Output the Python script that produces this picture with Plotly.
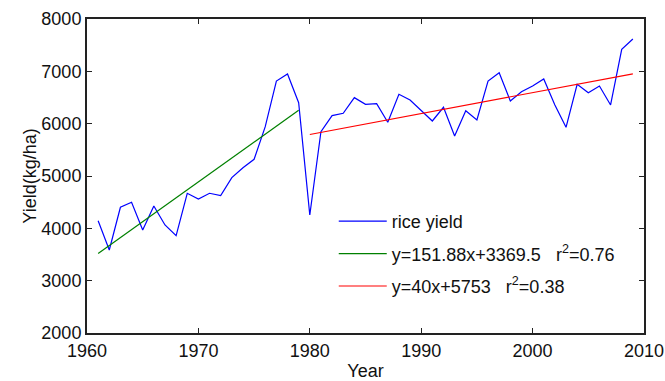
import plotly.graph_objects as go

years = list(range(1961, 2010))
rice_yield = [4146, 3586, 4402, 4497, 3968, 4427, 4064, 3860, 4670, 4561,
              4670, 4624, 4968, 5159, 5319, 5943, 6815, 6949, 6401, 4255,
              5847, 6153, 6198, 6497, 6370, 6382, 6026, 6561, 6453, 6242,
              6051, 6313, 5765, 6248, 6070, 6815, 6974, 6433, 6611, 6720,
              6854, 6357, 5931, 6752, 6592, 6720, 6357, 7421, 7618]

trend1_years = list(range(1961, 1980))
trend1_vals = [3521, 3673, 3825, 3977, 4129, 4281, 4433, 4585, 4736, 4888,
               5040, 5192, 5344, 5496, 5648, 5800, 5951, 6103, 6255]

trend2_years = list(range(1980, 2010))
trend2_vals = [5793, 5833, 5873, 5913, 5953, 5993, 6033, 6073, 6113, 6153,
               6193, 6233, 6273, 6313, 6353, 6393, 6433, 6473, 6513, 6553,
               6593, 6633, 6673, 6713, 6753, 6793, 6833, 6873, 6913, 6953]

names = ["rice yield",
         "y=151.88x+3369.5\u00a0\u00a0\u00a0r<sup>2</sup>=0.76",
         "y=40x+5753\u00a0\u00a0\u00a0r<sup>2</sup>=0.38"]

x_ticks = [1960, 1970, 1980, 1990, 2000, 2010]
y_ticks = [2000, 3000, 4000, 5000, 6000, 7000, 8000]

fig = go.Figure()
fig.add_trace(go.Scatter(x=years, y=rice_yield, mode="lines", name=names[0],
                         line=dict(color="#0000ff", width=1.2), legendgroup="a"))
fig.add_trace(go.Scatter(x=trend1_years, y=trend1_vals, mode="lines", name=names[1],
                         line=dict(color="#008000", width=1.2), legendgroup="b"))
fig.add_trace(go.Scatter(x=trend2_years, y=trend2_vals, mode="lines", name=names[2],
                         line=dict(color="#ff0000", width=1.2), legendgroup="c"))

axis_common = dict(showline=True, linecolor="#222222", linewidth=2, mirror="ticks",
                   ticks="inside", ticklen=5, tickwidth=1, tickcolor="#222222",
                   showgrid=False, zeroline=False, automargin=False,
                   tickfont=dict(family="Liberation Sans, Arial", size=18, color="#111111"))

fig.update_layout(
    width=665, height=381,
    margin=dict(l=87, r=21, t=19, b=48, autoexpand=False),
    paper_bgcolor="white", plot_bgcolor="white",
    font=dict(family="Liberation Sans, Arial", size=18, color="#111111"),
    xaxis=dict(range=[1960, 2010], tickvals=x_ticks, ticklabelstandoff=0,
               title=dict(text="Year", standoff=5,
                          font=dict(family="Liberation Sans, Arial", size=18)),
               **axis_common),
    yaxis=dict(range=[2000, 8000], tickvals=y_ticks,
               title=dict(text="Yield(kg/ha)", standoff=0,
                          font=dict(family="Liberation Sans, Arial", size=18)),
               **axis_common),
    legend=dict(x=0.443, y=0.414, xanchor="left", yanchor="top",
                bgcolor="rgba(0,0,0,0)", borderwidth=0,
                font=dict(family="Liberation Sans, Arial", size=18, color="#111111"),
                traceorder="grouped", tracegroupgap=6, itemwidth=48),
    showlegend=True,
)

fig.write_html("out.html")
